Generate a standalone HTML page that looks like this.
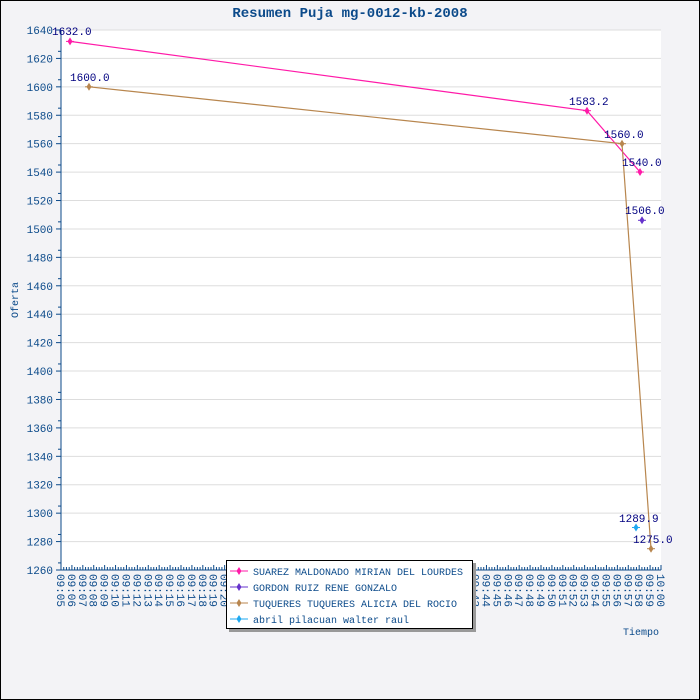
<!DOCTYPE html><html><head><meta charset="utf-8"><style>body{margin:0}svg{display:block}</style></head><body>
<svg id="s" width="700" height="700" xmlns="http://www.w3.org/2000/svg" font-family="Liberation Mono, monospace">
<rect x="0.5" y="0.5" width="699" height="699" fill="#f3f3f6" stroke="#000"/>
<rect x="61" y="30" width="600" height="540" fill="#fff"/>
<text x="350" y="17" text-anchor="middle" font-size="14" font-weight="bold" fill="#0b4a8a">Resumen Puja mg-0012-kb-2008</text>
<g id="g"></g>
<g fill="none" stroke-width="1.2">
<polyline points="70,41.4 587,110.7 640,172" stroke="#ff1aa8"/>
<polyline points="89,86.8 622,143.7 651,548.7" stroke="#b8864e"/>
</g>
<g font-size="11" fill="#000080">
<text x="52" y="35">1632.0</text>
<text x="70" y="81">1600.0</text>
<text x="569" y="105">1583.2</text>
<text x="604" y="138">1560.0</text>
<text x="622" y="166">1540.0</text>
<text x="625" y="214">1506.0</text>
<text x="619" y="522">1289.9</text>
<text x="633" y="543">1275.0</text>
</g>
<text x="18" y="300" font-size="10" fill="#0b4a8a" transform="rotate(-90 18 300)" text-anchor="middle">Oferta</text>
<text x="659" y="635" font-size="10" fill="#0b4a8a" text-anchor="end">Tiempo</text>
<rect x="229" y="563" width="247" height="69" fill="#999"/>
<rect x="226.5" y="560.5" width="246" height="68" fill="#fff" stroke="#000"/>
<g font-size="10" fill="#0b4a8a">
<text x="253" y="575">SUAREZ MALDONADO MIRIAN DEL LOURDES</text>
<text x="253" y="591">GORDON RUIZ RENE GONZALO</text>
<text x="253" y="607">TUQUERES TUQUERES ALICIA DEL ROCIO</text>
<text x="253" y="623">abril pilacuan walter raul</text>
</g>
</svg>
<script>
const g=document.getElementById('g');let h='';
const Y=v=>30+(1640-v)*540/380;
for(let v=1260;v<=1640;v+=20){const y=Y(v);h+=`<line x1="61" x2="661" y1="${y}" y2="${y}" stroke="#ddd"/>`;
h+=`<line x1="56" x2="61" y1="${y}" y2="${y}" stroke="#0b4a8a"/><text x="53" y="${y+4}" font-size="11" fill="#0b4a8a" text-anchor="end">${v}</text>`;
if(v<1640)h+=`<line x1="58" x2="61" y1="${y-7.1}" y2="${y-7.1}" stroke="#0b4a8a"/>`;}
h+=`<line x1="61" x2="61" y1="30" y2="570" stroke="#0b4a8a"/><line x1="61" x2="661" y1="570" y2="570" stroke="#0b4a8a"/>`;
for(let i=0;i<=55*4;i++){const x=61+i*600/220;h+=`<line x1="${x}" x2="${x}" y1="${i%4?567:565}" y2="570" stroke="#0b4a8a"/>`;}
for(let m=0;m<=55;m++){const x=61+m*600/55;const t=m<55?`09:${String(5+m).padStart(2,'0')}`:'10:00';
h+=`<text x="${x-4}" y="574" font-size="11" fill="#0b4a8a" transform="rotate(90 ${x-4} 574)">${t}</text>`;}
function mk(x,y,c){return `<path d="M${x} ${y-4}L${x+2.5} ${y}L${x} ${y+4}L${x-2.5} ${y}Z" fill="${c}"/><line x1="${x-4}" x2="${x+4}" y1="${y}" y2="${y}" stroke="${c}"/>`}
let p=[[70,41.4,'#ff1aa8'],[587,110.7,'#ff1aa8'],[640,172,'#ff1aa8'],[89,86.8,'#b8864e'],[622,143.7,'#b8864e'],[651,548.7,'#b8864e'],[642,220.3,'#6633cc'],[636,527.5,'#1ea8f0']];
let lg=[['#ff1aa8',571],['#6633cc',587],['#b8864e',603],['#1ea8f0',619]];
g.innerHTML=h;
const s=document.getElementById('s');
lg.forEach(([c,y])=>{s.insertAdjacentHTML('beforeend',`<line x1="230" x2="248" y1="${y}" y2="${y}" stroke="${c}"/>`+mk(239,y,c))});
s.insertAdjacentHTML('beforeend',p.map(a=>mk(...a)).join(''));
</script>
</body></html>
